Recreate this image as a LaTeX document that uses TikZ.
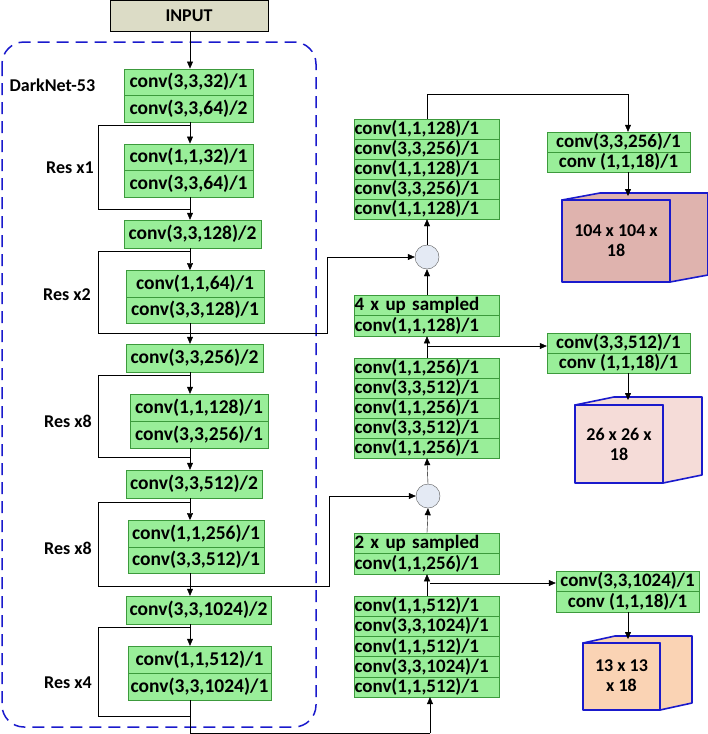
\documentclass[tikz,border=0pt]{standalone}
\usepackage{fontspec}
\setmainfont{Carlito}
\usetikzlibrary{arrows.meta,calc}
\definecolor{boxgreen}{HTML}{99EE99}
\definecolor{edgegreen}{HTML}{3C9A3C}
\definecolor{inputgray}{HTML}{DCDCC6}
\definecolor{darkblue}{HTML}{1A1ACC}
\definecolor{cubeA}{HTML}{DFB3AE}
\definecolor{cubeB}{HTML}{F5DCD8}
\definecolor{cubeC}{HTML}{FAD3B4}
\definecolor{plus}{HTML}{E4EAF4}
\tikzset{
  conv/.style={draw=edgegreen, fill=boxgreen, inner sep=0pt, font=\fontsize{19.5}{20}\selectfont\bfseries},
  convl/.style={conv, align=left, text width=145pt, font=\fontsize{19}{19}\selectfont\bfseries},
  head/.style={conv, font=\fontsize{19}{19}\selectfont\bfseries},
  res/.style={font=\fontsize{18}{20}\selectfont\bfseries},
  merge/.style={circle, draw=gray!70!black, fill=plus, minimum size=24pt, inner sep=0pt},
  flow/.style={-{Triangle[length=7pt,width=6pt]}, black},
  line/.style={black},
  cube/.style={draw=darkblue, line width=1.6pt, line join=round}
}
\begin{document}
\begin{tikzpicture}[x=1pt,y=-1pt]
  \useasboundingbox (0,0) rectangle (708,734);

  %% backbone
  \draw[darkblue, dashed, line width=1.5pt, dash pattern=on 12pt off 7pt, rounded corners=22pt]
    (2,42) rectangle (316,727);
  \node[res, anchor=west] (dn) at (6,85) {DarkNet-53};
  \node[draw, fill=inputgray, minimum width=158pt, minimum height=31pt, inner sep=0pt,
        font=\fontsize{18}{19}\selectfont\bfseries] (in) at (189,15.5) {INPUT};
  \coordinate (sp) at (190,0);

  \node[conv, minimum width=129pt, minimum height=26.5pt] (b1a) at (188.5,82) {conv(3,3,32)/1};
  \node[conv, minimum width=129pt, minimum height=26.5pt] (b1b) at (188.5,108.5) {conv(3,3,64)/2};
  \node[conv, minimum width=129pt, minimum height=26.5pt] (b2a) at (188.5,157) {conv(1,1,32)/1};
  \node[conv, minimum width=129pt, minimum height=26.5pt] (b2b) at (188.5,183.5) {conv(3,3,64)/1};
  \node[conv, minimum width=137pt, minimum height=28pt] (b3) at (192.5,234) {conv(3,3,128)/2};
  \node[conv, minimum width=138pt, minimum height=26.5pt] (b4a) at (195,283.5) {conv(1,1,64)/1};
  \node[conv, minimum width=138pt, minimum height=26.5pt] (b4b) at (195,310) {conv(3,3,128)/1};
  \node[conv, minimum width=137pt, minimum height=28pt] (b5) at (194.5,358) {conv(3,3,256)/2};
  \node[conv, minimum width=138pt, minimum height=27pt] (b6a) at (199,407.5) {conv(1,1,128)/1};
  \node[conv, minimum width=138pt, minimum height=27pt] (b6b) at (199,434.5) {conv(3,3,256)/1};
  \node[conv, minimum width=136pt, minimum height=28pt] (b7) at (194,484) {conv(3,3,512)/2};
  \node[conv, minimum width=136pt, minimum height=26.5pt] (b8a) at (196,533.5) {conv(1,1,256)/1};
  \node[conv, minimum width=136pt, minimum height=26.5pt] (b8b) at (196,560) {conv(3,3,512)/1};
  \node[conv, minimum width=145pt, minimum height=28pt] (b9) at (198.5,610) {conv(3,3,1024)/2};
  \node[conv, minimum width=143pt, minimum height=27pt] (b10a) at (199.5,659.5) {conv(1,1,512)/1};
  \node[conv, minimum width=143pt, minimum height=27pt] (b10b) at (199.5,686.5) {conv(3,3,1024)/1};

  \node[res] (r1) at (70,168) {Res x1};
  \node[res] (r2) at (67,295) {Res x2};
  \node[res] (r3) at (68,421) {Res x8};
  \node[res] (r4) at (68,548) {Res x8};
  \node[res] (r5) at (68,683) {Res x4};

  \draw[flow] (in.south -| sp) -- (b1a.north -| sp);
  \draw[flow] (b1b.south -| sp) -- (b2a.north -| sp);
  \draw[flow] (b2b.south -| sp) -- (b3.north -| sp);
  \draw[flow] (b3.south -| sp) -- (b4a.north -| sp);
  \draw[flow] (b4b.south -| sp) -- (b5.north -| sp);
  \draw[flow] (b5.south -| sp) -- (b6a.north -| sp);
  \draw[flow] (b6b.south -| sp) -- (b7.north -| sp);
  \draw[flow] (b7.south -| sp) -- (b8a.north -| sp);
  \draw[flow] (b8b.south -| sp) -- (b9.north -| sp);
  \draw[flow] (b9.south -| sp) -- (b10a.north -| sp);

  %% shortcuts
  \draw[line] (190,125) -| (98,209) -- (190,209);
  \draw[line] (190,251) -| (98,333) -- (190,333);
  \draw[line] (190,375) -| (98,457) -- (190,457);
  \draw[line] (190,502) -| (98,586) -- (190,586);
  \draw[line] (190,627) -| (98,716) -- (190,716);

  %% neck
  \node[convl, minimum height=20.2pt] (p1a) at (427,606) {conv(1,1,512)/1};
  \node[convl, minimum height=20.2pt] (p1b) at (427,626.2) {conv(3,3,1024)/1};
  \node[convl, minimum height=20.2pt] (p1c) at (427,646.4) {conv(1,1,512)/1};
  \node[convl, minimum height=20.2pt] (p1d) at (427,666.6) {conv(3,3,1024)/1};
  \node[convl, minimum height=20.2pt] (p1e) at (427,686.8) {conv(1,1,512)/1};
  \node[convl, minimum height=20.5pt] (u2a) at (427,543.3) {2 x up sampled};
  \node[convl, minimum height=20.5pt] (u2b) at (427,563.8) {conv(1,1,256)/1};
  \node[merge] (m2) at (428,496) {};
  \node[convl, minimum height=20pt] (p2a) at (427,368) {conv(1,1,256)/1};
  \node[convl, minimum height=20pt] (p2b) at (427,388) {conv(3,3,512)/1};
  \node[convl, minimum height=20pt] (p2c) at (427,408) {conv(1,1,256)/1};
  \node[convl, minimum height=20pt] (p2d) at (427,428) {conv(3,3,512)/1};
  \node[convl, minimum height=20pt] (p2e) at (427,448) {conv(1,1,256)/1};
  \node[convl, minimum height=20.5pt] (u1a) at (427,305.3) {4 x up sampled};
  \node[convl, minimum height=20.5pt] (u1b) at (427,325.8) {conv(1,1,128)/1};
  \node[merge] (m1) at (427,257) {};
  \node[convl, minimum height=20pt] (p3a) at (427,129) {conv(1,1,128)/1};
  \node[convl, minimum height=20pt] (p3b) at (427,149) {conv(3,3,256)/1};
  \node[convl, minimum height=20pt] (p3c) at (427,169) {conv(1,1,128)/1};
  \node[convl, minimum height=20pt] (p3d) at (427,189) {conv(3,3,256)/1};
  \node[convl, minimum height=20pt] (p3e) at (427,209) {conv(1,1,128)/1};

  \draw[line] (b10b.south -| sp) |- (430,733);
  \draw[flow] (430,733) -- (p1e.south -| 430,0);
  \draw[flow] (p1a.north) -- (u2b.south);
  \draw[flow] (u2a.north) -- (m2.south);
  \draw[flow] (m2.north) -- (p2e.south);
  \draw[flow] (p2a.north) -- (u1b.south);
  \draw[flow] (u1a.north) -- (m1.south);
  \draw[flow] (m1.north) -- (p3e.south);
  \draw[flow] (190,333) -- (327,333) |- (m1.west);
  \draw[flow] (190,586) -- (329,586) |- (m2.west);

  %% heads
  \node[head, minimum width=143pt, minimum height=20pt] (h1a) at (618.5,142) {conv(3,3,256)/1};
  \node[head, minimum width=143pt, minimum height=20pt] (h1b) at (618.5,162) {conv (1,1,18)/1};
  \node[head, minimum width=143pt, minimum height=20pt] (h2a) at (618.5,343) {conv(3,3,512)/1};
  \node[head, minimum width=143pt, minimum height=20pt] (h2b) at (618.5,363) {conv (1,1,18)/1};
  \node[head, minimum width=143pt, minimum height=20.5pt] (h3a) at (627.5,581.3) {conv(3,3,1024)/1};
  \node[head, minimum width=143pt, minimum height=20.5pt] (h3b) at (627.5,601.8) {conv (1,1,18)/1};

  \draw[flow] (p3a.north) |- (628,94) -- (h1a.north -| 628,0);
  \draw[flow] (427,346) -- (h2a.west |- 0,346);
  \draw[flow] (430,583) -- (h3a.west |- 0,583);

  %% outputs
  \draw[cube, fill=cubeA] (562,200) -- ++(38,-7) -- (708,193) -- (708,275) -- (670,282) -- (670,200) -- cycle;
  \draw[cube, fill=cubeA] (562,200) rectangle (670,282);
  \node[res, align=center] (o1) at (616,241) {104 x 104 x\\18};
  \draw[cube, fill=cubeB] (575,405) -- ++(39,-8) -- (702,397) -- (702,475) -- (663,483) -- (663,405) -- cycle;
  \draw[cube, fill=cubeB] (575,405) rectangle (663,483);
  \node[res, align=center] (o2) at (619,444) {26 x 26 x\\18};
  \draw[cube, fill=cubeC] (583,643) -- ++(32,-7) -- (692,636) -- (692,703) -- (660,710) -- (660,643) -- cycle;
  \draw[cube, fill=cubeC] (583,643) rectangle (660,710);
  \node[res, align=center] (o3) at (621.5,676) {13 x 13\\x 18};

  \draw[flow] (h1b.south -| 628,0) -- (628,196);
  \draw[flow] (h2b.south -| 628,0) -- (628,400);
  \draw[flow] (h3b.south -| 628,0) -- (628,639);
\end{tikzpicture}
\end{document}
